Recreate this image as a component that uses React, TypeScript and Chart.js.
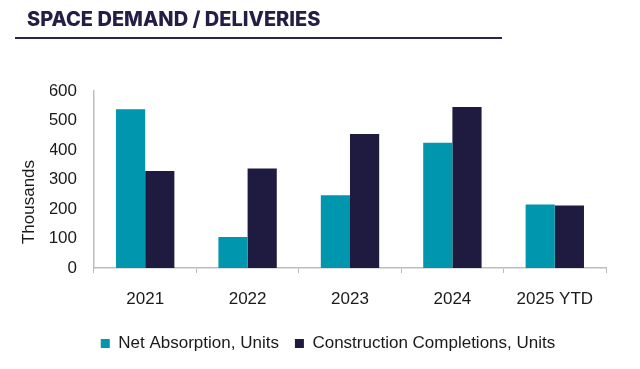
import React, { useEffect, useRef } from "react";
import { Chart, registerables } from "chart.js";

Chart.register(...registerables);

const categories = ["2021", "2022", "2023", "2024", "2025 YTD"];
const netAbsorption = [538, 105, 247, 425, 215];
const completions = [329, 337, 454, 546, 212];
const yTicks = [0, 100, 200, 300, 400, 500, 600];

const TITLE = "SPACE DEMAND / DELIVERIES";
const Y_TITLE = "Thousands";
const TEAL = "#0096ad";
const NAVY = "#1f1a40";
const AXIS = "#bdbdbd";
const TEXT = "#1a1a1a";
const FONT = "'Liberation Sans', Arial, sans-serif";

const decorPlugin = {
  id: "decor",
  afterDraw(chart: any) {
    const ctx = chart.ctx;
    ctx.save();
    ctx.fillStyle = "#231e46";
    ctx.font = "800 20px Inter";
    ctx.textBaseline = "middle";
    ctx.textAlign = "left";
    ctx.fillText(TITLE, 27, 20);
    ctx.strokeStyle = "#2a2550";
    ctx.lineWidth = 2;
    ctx.beginPath();
    ctx.moveTo(15, 38);
    ctx.lineTo(502, 38);
    ctx.stroke();
    ctx.translate(29, 202);
    ctx.rotate(-Math.PI / 2);
    ctx.fillStyle = TEXT;
    ctx.font = `17px ${FONT}`;
    ctx.textAlign = "center";
    ctx.fillText(Y_TITLE, 0, 0);
    ctx.restore();
  },
};

export default function App() {
  const ref = useRef<HTMLCanvasElement | null>(null);
  useEffect(() => {
    if (!ref.current) return;
    const chart = new Chart(ref.current, {
      type: "bar",
      data: {
        labels: categories,
        datasets: [
          { label: "Net Absorption, Units", data: netAbsorption, backgroundColor: TEAL },
          { label: "Construction Completions, Units", data: completions, backgroundColor: NAVY },
        ],
      },
      options: {
        animation: false,
        responsive: false,
        maintainAspectRatio: false,
        layout: { padding: { left: 50, right: 34, top: 91, bottom: 7 } },
        datasets: { bar: { categoryPercentage: 0.57, barPercentage: 1 } },
        plugins: {
          tooltip: { enabled: false },
          legend: {
            position: "bottom",
            labels: {
              boxWidth: 9,
              boxHeight: 9,
              padding: 16,
              color: TEXT,
              font: { family: FONT, size: 17 },
            },
          },
        },
        scales: {
          x: {
            afterFit: (s: any) => { s.height = 51; },
            border: { color: AXIS, width: 1.5 },
            grid: { display: true, drawOnChartArea: false, drawTicks: true, tickLength: 5, color: AXIS, offset: true },
            ticks: { color: TEXT, font: { family: FONT, size: 17 }, padding: 16 },
          },
          y: {
            min: 0,
            max: 600,
            afterFit: (s: any) => { s.width = 44; },
            afterBuildTicks: (s: any) => { s.ticks = yTicks.map((v) => ({ value: v })); },
            border: { color: AXIS, width: 1.5 },
            grid: { display: false, drawTicks: false },
            ticks: { color: TEXT, font: { family: FONT, size: 17 }, padding: 17 },
          },
        },
      },
      plugins: [decorPlugin],
    });
    return () => chart.destroy();
  }, []);
  return (
    <div style={{ position: "fixed", left: 0, top: 0, width: 640, height: 369, background: "#fff" }}>
      <canvas ref={ref} width={640} height={369} style={{ width: 640, height: 369 }} />
    </div>
  );
}
